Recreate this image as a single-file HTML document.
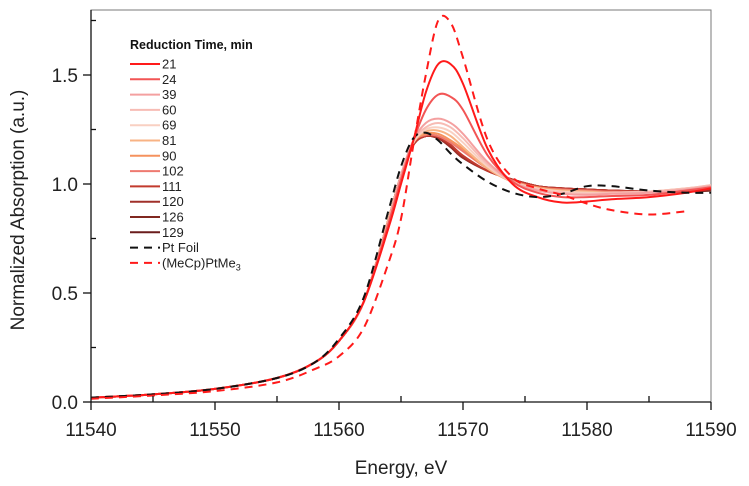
<!DOCTYPE html>
<html><head><meta charset="utf-8"><style>
body{margin:0;background:#fff;}
svg{display:block;font-family:"Liberation Sans",Arial,sans-serif;}
</style></head><body>
<svg id="chart" width="749" height="486">
<rect x="91" y="10" width="620" height="392" fill="#fff" stroke="#7a7a7a" stroke-width="1"/>
<g id="curves"></g>
<g id="axes"></g>
<g id="legend"></g>
<text x="401" y="474" text-anchor="middle" font-size="19" fill="#222">Energy, eV</text>
<text transform="translate(24,210) rotate(-90)" text-anchor="middle" font-size="19" fill="#222">Normalized Absorption (a.u.)</text>
</svg>
<script>
const energies=[11540,11545,11550,11555,11558,11560,11562,11564,11565,11566,11567,11568,11569,11570,11572,11574,11576,11578,11580,11582,11585,11588,11590];
const times=["21","24","39","60","69","81","90","102","111","120","126","129"];
const seriesColors=["#ff1a1a","#f25555","#f4a0a0","#f7bcb4","#f9d0c2","#f8b384","#f5925e","#ee7a70","#c23a2e","#a0302a","#802820","#6a1c1c"];
const s21=[0.02,0.035,0.06,0.11,0.18,0.28,0.46,0.80,1.00,1.20,1.42,1.55,1.55,1.46,1.16,1.00,0.94,0.915,0.92,0.93,0.94,0.96,0.98];
const s24=[0.02,0.035,0.06,0.11,0.18,0.28,0.46,0.82,1.02,1.20,1.34,1.41,1.40,1.34,1.13,1.01,0.96,0.94,0.94,0.945,0.95,0.97,0.985];
const s39=[0.02,0.035,0.06,0.11,0.18,0.28,0.46,0.83,1.04,1.20,1.28,1.30,1.28,1.23,1.10,1.01,0.97,0.955,0.95,0.955,0.96,0.975,0.99];
const s60=[0.02,0.035,0.06,0.11,0.18,0.28,0.46,0.83,1.04,1.20,1.26,1.28,1.26,1.21,1.09,1.01,0.975,0.96,0.955,0.96,0.965,0.98,0.995];
const s69=[0.02,0.035,0.06,0.11,0.18,0.28,0.46,0.83,1.04,1.19,1.25,1.26,1.24,1.19,1.08,1.01,0.98,0.965,0.96,0.96,0.965,0.98,0.995];
const s81=[0.02,0.035,0.06,0.11,0.18,0.28,0.46,0.84,1.04,1.19,1.24,1.245,1.22,1.17,1.07,1.01,0.98,0.97,0.965,0.96,0.965,0.98,0.99];
const s90=[0.02,0.035,0.06,0.11,0.18,0.28,0.46,0.84,1.04,1.19,1.23,1.23,1.20,1.16,1.07,1.01,0.985,0.97,0.965,0.96,0.965,0.975,0.99];
const s102=[0.02,0.035,0.06,0.11,0.18,0.28,0.46,0.84,1.04,1.19,1.225,1.22,1.19,1.15,1.07,1.015,0.985,0.975,0.97,0.965,0.965,0.975,0.985];
const s111=[0.02,0.035,0.06,0.11,0.18,0.28,0.46,0.84,1.04,1.18,1.22,1.215,1.18,1.13,1.06,1.02,0.99,0.98,0.975,0.97,0.965,0.97,0.98];
const s120=[0.02,0.035,0.06,0.11,0.18,0.28,0.46,0.84,1.04,1.18,1.22,1.21,1.17,1.12,1.06,1.02,0.99,0.98,0.975,0.97,0.965,0.965,0.975];
const s126=[0.02,0.035,0.06,0.11,0.18,0.28,0.46,0.84,1.04,1.18,1.22,1.21,1.17,1.12,1.06,1.02,0.99,0.98,0.975,0.97,0.965,0.965,0.97];
const s129=[0.02,0.035,0.06,0.11,0.18,0.28,0.46,0.84,1.04,1.18,1.22,1.21,1.17,1.12,1.06,1.02,0.99,0.98,0.975,0.97,0.965,0.965,0.97];
const ptFoil=[0.02,0.035,0.06,0.11,0.18,0.29,0.48,0.88,1.08,1.21,1.235,1.20,1.14,1.09,1.01,0.96,0.94,0.955,0.99,0.99,0.97,0.96,0.96];
const precursor=[0.015,0.03,0.05,0.09,0.15,0.21,0.34,0.64,0.84,1.18,1.50,1.75,1.74,1.58,1.20,1.03,0.98,0.95,0.91,0.88,0.86,0.875,null];
const allSeries=[s21,s24,s39,s60,s69,s81,s90,s102,s111,s120,s126,s129];
const xTicks=[11540,11550,11560,11570,11580,11590];
const yTicks=[0.0,0.5,1.0,1.5];
const yTickLabels=["0.0","0.5","1.0","1.5"];

const NS="http://www.w3.org/2000/svg";
const X=e=>91+(e-11540)*12.4;
const Y=v=>402-v*218;
function path(vals){
  const pts=[];vals.forEach((v,i)=>{if(v!==null)pts.push([X(energies[i]),Y(v)]);});
  let d="M"+pts[0][0]+","+pts[0][1];
  for(let i=0;i<pts.length-1;i++){
    const p0=pts[i-1]||pts[i],p1=pts[i],p2=pts[i+1],p3=pts[i+2]||p2;
    const c1=[p1[0]+(p2[0]-p0[0])/6,p1[1]+(p2[1]-p0[1])/6];
    const c2=[p2[0]-(p3[0]-p1[0])/6,p2[1]-(p3[1]-p1[1])/6];
    d+=` C${c1[0]},${c1[1]} ${c2[0]},${c2[1]} ${p2[0]},${p2[1]}`;
  }
  return d;
}
const cg=document.getElementById("curves");
function addLine(parent,d,color,w,dash,name){
  const p=document.createElementNS(NS,"path");
  p.setAttribute("d",d);p.setAttribute("fill","none");p.setAttribute("stroke",color);
  p.setAttribute("stroke-width",w);if(dash)p.setAttribute("stroke-dasharray",dash);
  
  
  parent.appendChild(p);return p;
}
for(let i=allSeries.length-1;i>=0;i--){
  addLine(cg,path(allSeries[i]),seriesColors[i],2,null,"series-"+times[i]+"-min");
}
addLine(cg,path(ptFoil),"#111",2,"8,6","series-pt-foil");
addLine(cg,path(precursor),"#ff1a1a",2,"8,6","series-mecp-ptme3");

const ag=document.getElementById("axes");
function ln(x1,y1,x2,y2,name){
  const l=document.createElementNS(NS,"line");
  l.setAttribute("x1",x1);l.setAttribute("y1",y1);l.setAttribute("x2",x2);l.setAttribute("y2",y2);
  l.setAttribute("stroke","#111");l.setAttribute("stroke-width","1.3");
  
  
  ag.appendChild(l);
}
function tx(x,y,s,anchor,name){
  const t=document.createElementNS(NS,"text");
  t.setAttribute("x",x);t.setAttribute("y",y);t.setAttribute("text-anchor",anchor);
  t.setAttribute("font-size","19");t.setAttribute("fill","#222");t.textContent=s;
  
  
  ag.appendChild(t);
}
ln(91,402,711,402,"x-axis-line");
ln(91,10,91,402,"y-axis-line");
xTicks.forEach((e,i)=>{ln(X(e),402,X(e),410,"x-tick");tx(X(e),436,String(e),"middle","x-tick-label");
  if(i<xTicks.length-1)ln(X(e+5),402,X(e+5),396,"x-minor-tick");});
yTicks.forEach((v,i)=>{ln(83,Y(v),91,Y(v),"y-tick");tx(78,Y(v)+7,yTickLabels[i],"end","y-tick-label");
  ln(91,Y(v+0.25),96,Y(v+0.25),"y-minor-tick");});

const lg=document.getElementById("legend");
const tt=document.createElementNS(NS,"text");
tt.setAttribute("x",130);tt.setAttribute("y",49);tt.setAttribute("font-size","12.5");tt.setAttribute("font-weight","bold");tt.setAttribute("fill","#111");
tt.textContent="Reduction Time, min";


lg.appendChild(tt);
const labels=times.concat(["Pt Foil","(MeCp)PtMe"]);
labels.forEach((s,i)=>{
  const y=64+i*15.3;
  const dash=i>=12;
  const col=i<12?seriesColors[i]:(i===12?"#111":"#ff1a1a");
  addLine(lg,`M130,${y} L160,${y}`,col,2,dash?"8,6":null,"legend-swatch");
  const t=document.createElementNS(NS,"text");
  t.setAttribute("x",162);t.setAttribute("y",y+4.5);t.setAttribute("font-size","13");t.setAttribute("fill","#222");
  t.textContent=s;
  if(i===13){const sub=document.createElementNS(NS,"tspan");sub.setAttribute("font-size","9");sub.setAttribute("dy","3");sub.textContent="3";t.appendChild(sub);}
  
  
  lg.appendChild(t);
});
</script>
</body></html>
